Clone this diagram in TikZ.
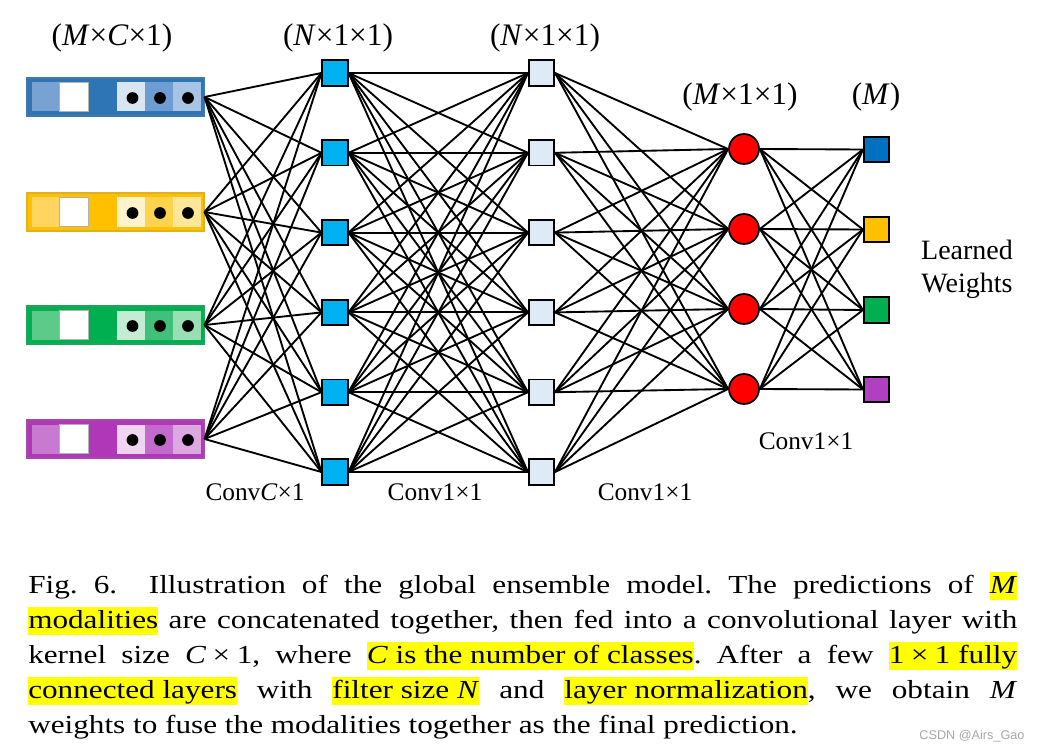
\documentclass[tikz,border=0pt]{standalone}
\usepackage{fontspec}
\setmainfont{Liberation Serif}
\newfontfamily\capfont[FakeStretch=1.2]{Liberation Serif}
\newfontfamily\wmfont{Liberation Sans}

\definecolor{bluemain}{HTML}{2E75B6}
\definecolor{blueA}{HTML}{78A2D2}
\definecolor{blueC}{HTML}{DAE5F2}
\definecolor{blueD}{HTML}{6D9DD1}
\definecolor{blueE}{HTML}{A8C4E4}
\definecolor{yelmain}{HTML}{FFC000}
\definecolor{yelA}{HTML}{FFD55F}
\definecolor{yelC}{HTML}{FFF2CC}
\definecolor{yelD}{HTML}{FFD34C}
\definecolor{yelE}{HTML}{FFE699}
\definecolor{grnmain}{HTML}{00B050}
\definecolor{grnA}{HTML}{5CCB8A}
\definecolor{grnC}{HTML}{C4ECD4}
\definecolor{grnD}{HTML}{40C07A}
\definecolor{grnE}{HTML}{99DFB4}
\definecolor{purmain}{HTML}{B038B8}
\definecolor{purA}{HTML}{C87AD0}
\definecolor{purC}{HTML}{EED5F1}
\definecolor{purD}{HTML}{C46ACC}
\definecolor{purE}{HTML}{DDA8E2}
\definecolor{layerA}{HTML}{00B0F0}
\definecolor{layerB}{HTML}{DEEBF7}
\definecolor{outblue}{HTML}{0070C0}
\definecolor{outyel}{HTML}{FFC000}
\definecolor{outgrn}{HTML}{00B050}
\definecolor{outpur}{HTML}{B040C0}
\definecolor{hlyellow}{HTML}{FFFF00}

\newcommand\hlt[1]{{\setlength\fboxsep{0pt}\colorbox{hlyellow}{\rule[-5.5pt]{0pt}{21pt}#1}}}

% name, y, main, c1, c3, c4, c5
\newcommand\inbar[7]{%
  \node[barnode, fill=#3, draw=#3!75!gray] (#1) at (115.5,#2) {};
  \fill[#4] (31.7,#2-14.5) rectangle (59.3,#2+14.5);
  \filldraw[fill=white, draw=gray!60, line width=0.5pt] (59.3,#2-14.5) rectangle (88.3,#2+14.5);
  \fill[#5] (116.7,#2-14.5) rectangle (145,#2+14.5);
  \fill[#6] (145,#2-14.5) rectangle (172.7,#2+14.5);
  \fill[#7] (172.7,#2-14.5) rectangle (201,#2+14.5);
  \fill[black] (132.5,#2+1) circle[radius=4.4pt];
  \fill[black] (160,#2+1) circle[radius=4.4pt];
  \fill[black] (188,#2+1) circle[radius=4.4pt];
}

\begin{document}
\begin{tikzpicture}[x=0.75pt,y=-0.75pt,
  barnode/.style={rectangle, minimum width=132.75pt, minimum height=28.5pt, line width=0.8pt, inner sep=0pt},
  conn/.style={line width=1.4pt, black},
  sqnode/.style={rectangle, draw=black, line width=1.3pt, minimum size=19pt, inner sep=0pt},
  circnode/.style={circle, draw=black, line width=1.3pt, fill=red, minimum size=22.5pt, inner sep=0pt},
  toplabel/.style={font=\fontsize{23.5}{28}\selectfont, inner sep=0pt},
  convlabel/.style={font=\fontsize{19}{22}\selectfont, inner sep=0pt},
  capline/.style={anchor=base west, inner sep=0pt, font=\capfont\fontsize{19.5}{27}\selectfont\frenchspacing}
]
\useasboundingbox (0,0) rectangle (1037,752);

% input bars
\inbar{in1}{97}{bluemain}{blueA}{blueC}{blueD}{blueE}
\inbar{in2}{212}{yelmain}{yelA}{yelC}{yelD}{yelE}
\inbar{in3}{325}{grnmain}{grnA}{grnC}{grnD}{grnE}
\inbar{in4}{439}{purmain}{purA}{purC}{purD}{purE}

% layer 1 and 2
\foreach \j in {1,...,6} {
  \node[sqnode, fill=layerA] (a\j) at (335, {73+79.8*(\j-1)}) {};
  \node[sqnode, fill=layerB] (b\j) at (541.5, {73+79.8*(\j-1)}) {};
}
% layer 3
\node[circnode] (c1) at (744,149) {};
\node[circnode] (c2) at (744,229) {};
\node[circnode] (c3) at (744,309) {};
\node[circnode] (c4) at (744,389) {};
% outputs
\node[sqnode, fill=outblue] (o1) at (876.5,149.5) {};
\node[sqnode, fill=outyel] (o2) at (876.5,229.5) {};
\node[sqnode, fill=outgrn] (o3) at (876.5,310) {};
\node[sqnode, fill=outpur] (o4) at (876.5,389.5) {};

% connections
\foreach \i in {1,...,4} \foreach \j in {1,...,6} \draw[conn] (in\i.east) -- (a\j.west);
\foreach \i in {1,...,6} \foreach \j in {1,...,6} \draw[conn] (a\i.east) -- (b\j.west);
\foreach \i in {1,...,6} \foreach \j in {1,...,4} \draw[conn] (b\i.east) -- (c\j.west);
\foreach \i in {1,...,4} \foreach \j in {1,...,4} \draw[conn] (c\i.east) -- (o\j.west);

% labels
\node[toplabel] (lin) at (112,38) {(\textit{M}×\textit{C}×1)};
\node[toplabel] (la) at (338,38) {(\textit{N}×1×1)};
\node[toplabel] (lb) at (545,38) {(\textit{N}×1×1)};
\node[toplabel] (lc) at (740,97) {(\textit{M}×1×1)};
\node[toplabel] (lo) at (876,97) {(\textit{M})};
\node[convlabel] (k1) at (255,492) {Conv\textit{C}×1};
\node[convlabel] (k2) at (435,492) {Conv1×1};
\node[convlabel] (k3) at (645,492) {Conv1×1};
\node[convlabel] (k4) at (806,441) {Conv1×1};
\node[convlabel, font=\fontsize{21}{25}\selectfont, align=center] (lw) at (967,269) {Learned\\Weights};

% caption
\node[capline] (cap1) at (28,593) {\makebox[741.75pt][s]{Fig.~6.\hspace{0.6em} Illustration of the global ensemble model. The predictions of \hlt{\textit{M}}}};
\node[capline] (cap2) at (28,628) {\makebox[741.75pt][s]{\hlt{modalities} are concatenated together, then fed into a convolutional layer with}};
\node[capline] (cap3) at (28,663) {\makebox[741.75pt][s]{kernel size \textit{C}\hspace{0.25em}×\hspace{0.25em}1, where \hlt{\textit{C} is the number of classes}. After a few \hlt{1\hspace{0.25em}×\hspace{0.25em}1 fully}}};
\node[capline] (cap4) at (28,698) {\makebox[741.75pt][s]{\hlt{connected layers} with \hlt{filter size \textit{N}} and \hlt{layer normalization}, we obtain \textit{M}}};
\node[capline] (cap5) at (28,733) {weights to fuse the modalities together as the final prediction.};

\node[inner sep=0pt, text=gray!70, font=\wmfont\fontsize{9.5}{11}\selectfont] (wm) at (972,736) {CSDN @Airs\_Gao};
\end{tikzpicture}
\end{document}
